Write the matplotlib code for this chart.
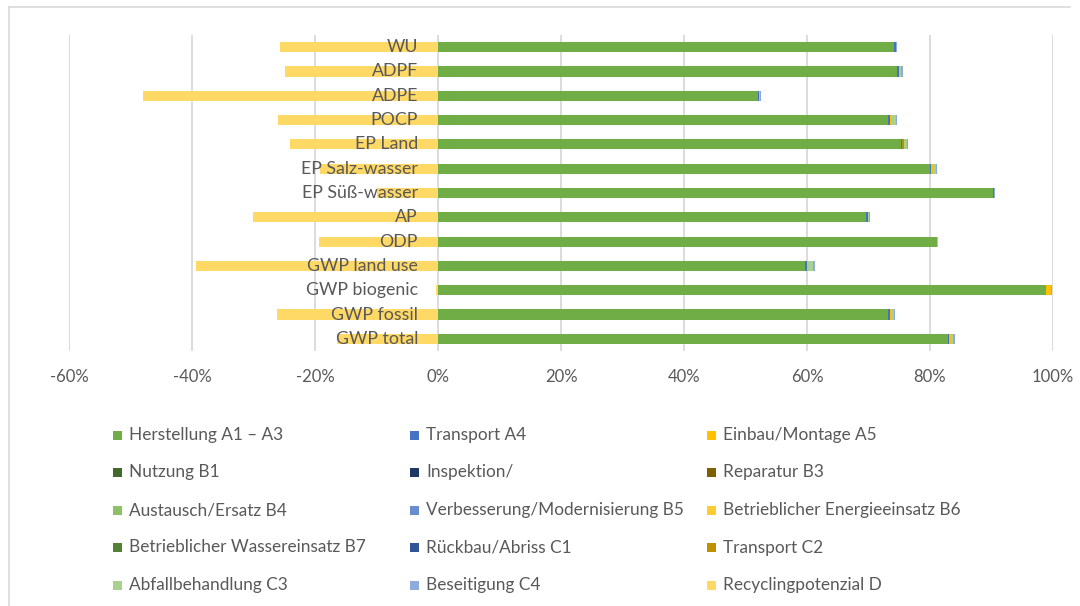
import numpy as np
import matplotlib
matplotlib.use('Agg')
import matplotlib.pyplot as plt
from matplotlib.patches import Rectangle
from matplotlib.lines import Line2D
from matplotlib.ticker import FuncFormatter

plt.rcParams['font.family'] = ['Lato', 'DejaVu Sans']

# categories, top to bottom as in the chart
categories = ['WU', 'ADPF', 'ADPE', 'POCP', 'EP Land', 'EP Salz-wasser',
              'EP Süß-wasser', 'AP', 'ODP', 'GWP land use', 'GWP biogenic',
              'GWP fossil', 'GWP total']

# values in percent
herstellung_a1_a3 = [74.1, 74.6, 52.1, 73.1, 75.3, 80.0, 90.3, 69.6, 81.1, 59.7, 98.8, 73.1, 83.0]
transport_a4      = [0.3, 0.4, 0.1, 0.4, 0.1, 0.1, 0.05, 0.3, 0.05, 0.3, 0.05, 0.4, 0.1]
einbau_a5         = [0.05, 0.05, 0.0, 0.1, 0.1, 0.4, 0.0, 0.05, 0.0, 0.05, 0.9, 0.1, 0.4]
nutzung_b1        = [0, 0, 0, 0, 0, 0, 0, 0, 0, 0, 0, 0, 0]
inspektion        = [0, 0, 0, 0, 0, 0, 0, 0, 0, 0, 0, 0, 0]
reparatur_b3      = [0, 0, 0, 0, 0, 0, 0, 0, 0, 0, 0, 0, 0]
austausch_b4      = [0, 0, 0, 0, 0, 0, 0, 0, 0, 0, 0, 0, 0]
verbesserung_b5   = [0, 0, 0, 0, 0, 0, 0, 0, 0, 0, 0, 0, 0]
energie_b6        = [0, 0, 0, 0, 0, 0, 0, 0, 0, 0, 0, 0, 0]
wasser_b7         = [0, 0, 0, 0, 0, 0, 0, 0, 0, 0, 0, 0, 0]
rueckbau_c1       = [0, 0, 0, 0, 0, 0, 0, 0, 0, 0, 0, 0, 0]
transport_c2      = [0.0, 0.0, 0.0, 0.1, 0.2, 0.0, 0.0, 0.0, 0.0, 0.0, 0.0, 0.0, 0.0]
abfall_c3         = [0.1, 0.3, 0.1, 0.8, 0.6, 0.5, 0.1, 0.2, 0.1, 1.0, 0.0, 0.6, 0.3]
beseitigung_c4    = [0.1, 0.2, 0.3, 0.1, 0.1, 0.1, 0.2, 0.1, 0.05, 0.2, 0.1, 0.1, 0.2]
recycling_d       = [-25.7, -24.9, -48.0, -26.0, -24.0, -19.2, -10.0, -30.1, -19.3, -39.3, -0.4, -26.2, -16.5]

series_names = ['Herstellung A1 – A3', 'Transport A4', 'Einbau/Montage A5',
                'Nutzung B1', 'Inspektion/', 'Reparatur B3',
                'Austausch/Ersatz B4', 'Verbesserung/Modernisierung B5', 'Betrieblicher Energieeinsatz B6',
                'Betrieblicher Wassereinsatz B7', 'Rückbau/Abriss C1', 'Transport C2',
                'Abfallbehandlung C3', 'Beseitigung C4', 'Recyclingpotenzial D']
series_values = [herstellung_a1_a3, transport_a4, einbau_a5,
                 nutzung_b1, inspektion, reparatur_b3,
                 austausch_b4, verbesserung_b5, energie_b6,
                 wasser_b7, rueckbau_c1, transport_c2,
                 abfall_c3, beseitigung_c4, recycling_d]
series_colors = ['#70AD47', '#4472C4', '#FFC000',
                 '#43682B', '#203864', '#7F6000',
                 '#8CC168', '#698ED0', '#FFCD33',
                 '#548235', '#2F5597', '#BF9000',
                 '#A9D18E', '#8FAADC', '#FFD966']

W, H = 1080, 606
fig = plt.figure(figsize=(W / 100, H / 100), dpi=100)
fig.patch.set_facecolor('white')

# outer chart border (partly cut off)
fig.add_artist(Line2D([9 / W, 1070 / W], [1 - 7 / H, 1 - 7 / H], color='#D9D9D9', lw=1.2))
fig.add_artist(Line2D([9 / W, 9 / W], [0, 1 - 7 / H], color='#D9D9D9', lw=1.2))

ax = fig.add_axes([69 / W, 1 - 351 / H, (1053 - 69) / W, 316 / H])
ypos = np.arange(len(categories))
left = np.zeros(len(categories))
for name, vals, col in zip(series_names, series_values, series_colors):
    vals = np.array(vals, dtype=float)
    if vals.min() < 0:
        ax.barh(ypos, vals, height=0.42, color=col, zorder=2)
    else:
        ax.barh(ypos, vals, left=left, height=0.42, color=col, zorder=2)
        left += vals

ax.set_xlim(-60, 100)
ax.set_ylim(len(categories) - 0.5, -0.5)
ax.set_xticks(range(-60, 101, 20))
ax.xaxis.set_major_formatter(FuncFormatter(lambda v, p: f'{v:.0f}%'))
ax.set_yticks([])
ax.grid(axis='x', color='#D9D9D9', linewidth=1.3, zorder=0)
ax.set_axisbelow(True)
for s in ax.spines.values():
    s.set_visible(False)
ax.tick_params(axis='x', length=0, pad=13, labelsize=12, labelcolor='#595959')

for i, cat in enumerate(categories):
    ax.annotate(cat, xy=(0, i), xytext=(-20, 0), textcoords='offset pixels',
                ha='right', va='center', fontsize=12.8, color='#595959', zorder=3)

# legend, 3 columns filled row by row
for k, (name, col) in enumerate(zip(series_names, series_colors)):
    row, c = divmod(k, 3)
    x0 = 113 + c * 297
    yc = 435 + row * 37.5
    fig.add_artist(Rectangle((x0 / W, 1 - (yc + 4.5) / H), 9 / W, 9 / H,
                             transform=fig.transFigure, color=col, lw=0))
    fig.text((x0 + 16) / W, 1 - yc / H, name, ha='left', va='center',
             fontsize=12.4, color='#595959')

fig.savefig('out.png', dpi=100)
